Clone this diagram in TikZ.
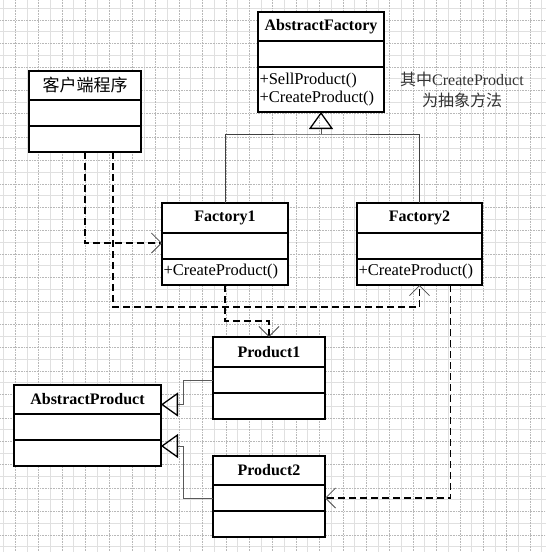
\documentclass[tikz,border=0pt]{standalone}
\usepackage{fontspec}
\setmainfont{Liberation Serif}
\newfontfamily\cjk{Noto Sans CJK SC}
\usetikzlibrary{arrows.meta,positioning}

\begin{document}
\begin{tikzpicture}[x=1pt,y=-1pt,
  cls/.style={draw,line width=1.4pt,fill=white,inner sep=0pt,outer sep=0pt,
              anchor=north west,font=\fontsize{16}{19}\selectfont\bfseries},
  part/.style={draw,line width=1.4pt,fill=white,inner xsep=1.5pt,inner ysep=0pt,
               outer sep=0pt,align=left,text width=#1,minimum height=26pt,
               font=\fontsize{16.5}{18}\selectfont},
  tree/.style={draw=black!75,line width=0.8pt},
  gen/.style={-{Triangle[open,length=17pt,width=24pt,line width=1.3pt,color=black]},
              draw=black!65,line width=0.8pt},
  dep/.style={-{Straight Barb[length=10pt,width=20pt,line width=0.8pt,color=black!70]},
              dash pattern=on 7pt off 4pt,line width=1.1pt},
  note/.style={align=center,font=\fontsize{16}{21}\selectfont,text=black!80},
  gridsolid/.style={draw=black!12,line width=0.5pt},
  griddot/.style={draw=black!28,line width=0.6pt,densely dotted}
]
  \useasboundingbox (0,0) rectangle (546,552);
  \fill[white] (0,0) rectangle (546,552);

  % Drawing grid
  \foreach \i in {0,2,...,46} {
    \draw[gridsolid] (3.5+11.7*\i,0) -- (3.5+11.7*\i,552);
    \draw[gridsolid] (0,8.3+11.7*\i) -- (546,8.3+11.7*\i);
  }
  \foreach \i in {1,3,...,45} {
    \draw[griddot] (3.5+11.7*\i,0) -- (3.5+11.7*\i,552);
    \draw[griddot] (0,8.3+11.7*\i) -- (546,8.3+11.7*\i);
  }

  % Classes
  \node[cls,minimum width=126pt,minimum height=29pt] (af) at (258,12) {AbstractFactory};
  \node[part=123pt,below=0pt of af] (afa) {};
  \node[part=123pt,below=0pt of afa,minimum height=45pt] (afm) {+SellProduct()\\+CreateProduct()};

  \node[cls,minimum width=112pt,minimum height=29pt,font=\cjk\fontsize{17}{19}\selectfont] (cl) at (29,71) {客户端程序};
  \node[part=109pt,below=0pt of cl] (cla) {};
  \node[part=109pt,below=0pt of cla] (clm) {};

  \node[cls,minimum width=126pt,minimum height=30pt] (f1) at (162,203) {Factory1};
  \node[part=123pt,below=0pt of f1] (f1a) {};
  \node[part=123pt,below=0pt of f1a] (f1m) {+CreateProduct()};

  \node[cls,minimum width=125pt,minimum height=30pt] (f2) at (357,203) {Factory2};
  \node[part=122pt,below=0pt of f2] (f2a) {};
  \node[part=122pt,below=0pt of f2a] (f2m) {+CreateProduct()};

  \node[cls,minimum width=112pt,minimum height=30pt] (p1) at (213,337) {Product1};
  \node[part=109pt,below=0pt of p1] (p1a) {};
  \node[part=109pt,below=0pt of p1a] (p1m) {};

  \node[cls,minimum width=112pt,minimum height=29pt] (p2) at (213,456) {Product2};
  \node[part=109pt,below=0pt of p2] (p2a) {};
  \node[part=109pt,below=0pt of p2a] (p2m) {};

  \node[cls,minimum width=147pt,minimum height=29pt] (ap) at (14,385) {AbstractProduct};
  \node[part=144pt,below=0pt of ap] (apa) {};
  \node[part=144pt,below=0pt of apa] (apm) {};

  % Note
  \node[note] (memo) at (462,90) {{\cjk 其中}CreateProduct\\{\cjk 为抽象方法}};

  % Inheritance
  \coordinate (fork) at (321,134);
  \draw[tree] (f1.north) |- (fork) -| (f2.north);
  \draw[gen] (fork) -- (afm.south);
  \draw[gen] (p1a.west) -- ++(-30,0) |- ([yshift=-5pt]ap.east);
  \draw[gen] (p2a.west) -- ++(-30,0) |- ([yshift=-6pt]apm.north east);

  % Dependencies
  \draw[dep] (clm.south) |- ([yshift=3pt]f1a.west);
  \draw[dep] ([xshift=28pt]clm.south) |- ([yshift=-22pt]f2m.south) -- (f2m.south);
  \draw[dep] (f1m.south) -- ++(0,36) -| (p1.north);
  \draw[dep] ([xshift=31pt]f2m.south) |- (p2a.east);
\end{tikzpicture}
\end{document}
